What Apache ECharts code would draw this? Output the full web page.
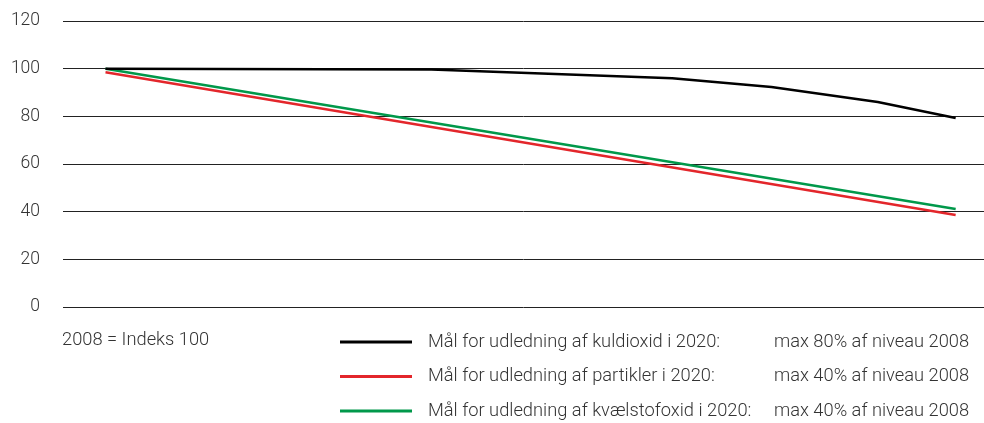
<!DOCTYPE html>
<html>
<head>
<meta charset="utf-8">
<script src="https://cdn.jsdelivr.net/npm/echarts@6/dist/echarts.min.js"></script>
<style>
  html, body { margin: 0; padding: 0; background: #fff; }
  #chart { width: 984px; height: 423px; }
</style>
</head>
<body>
<div id="chart"></div>
<script>
// years as x (2008 = start, 2020 = target year)
const co2Years = [2008, 2012.6, 2016, 2017.4, 2018.9, 2020];
const co2Values = [100, 99.6, 96, 92.3, 86, 79.3];
const targetYears = [2008, 2020];
const particleValues = [98.5, 38.6];
const noxValues = [100, 41.1];
const seriesNames = [
  'Mål for udledning af kuldioxid i 2020:',
  'Mål for udledning af partikler i 2020:',
  'Mål for udledning af kvælstofoxid i 2020:'
];
const targetTexts = [
  'max 80% af niveau 2008',
  'max 40% af niveau 2008',
  'max 40% af niveau 2008'
];
const colors = ['#000000', '#e3262b', '#00984a'];

const zip = (xs, ys) => xs.map((x, i) => [x, ys[i]]);

const chart = echarts.init(document.getElementById('chart'));
const font = 'Roboto, sans-serif';
const txt = { fontSize: 18.3, color: '#333', fontFamily: font, fontWeight: 300 };

chart.setOption({
  animation: false,
  grid: { left: 63, right: 0, top: 21, bottom: 116 },
  xAxis: {
    type: 'value',
    min: 2007.4,
    max: 2020.4,
    show: false
  },
  yAxis: {
    type: 'value',
    min: 0,
    max: 120,
    interval: 20,
    axisLine: { show: false },
    axisTick: { show: false },
    axisLabel: Object.assign({ margin: 23 }, txt, { fontSize: 17.5 }),
    splitLine: { lineStyle: { color: '#222', width: 1 } }
  },
  legend: {
    orient: 'vertical',
    left: 335,
    top: 328,
    width: 650,
    height: 100,
    icon: 'rect',
    itemWidth: 72,
    itemHeight: 3,
    itemGap: 16.5,
    selectedMode: false,
    data: seriesNames,
    formatter: name => {
      const i = seriesNames.indexOf(name);
      return '{p|}{a|' + name + '}{b|' + targetTexts[i] + '}';
    },
    textStyle: {
      rich: {
        p: { width: 11 },
        a: Object.assign({ width: 346, height: 20 }, txt),
        b: Object.assign({ height: 20 }, txt)
      }
    }
  },
  graphic: [{
    type: 'text',
    left: 62,
    top: 331,
    style: { text: '2008 = Indeks 100', fontSize: 18.3, fill: '#333', fontFamily: font, fontWeight: 300 }
  }],
  series: [
    { name: seriesNames[0], data: zip(co2Years, co2Values) },
    { name: seriesNames[1], data: zip(targetYears, particleValues) },
    { name: seriesNames[2], data: zip(targetYears, noxValues) }
  ].map((s, i) => Object.assign(s, {
    type: 'line',
    symbol: 'none',
    color: colors[i],
    lineStyle: { color: colors[i], width: 2.5 },
    z: 3 - i
  }))
});
</script>
</body>
</html>
